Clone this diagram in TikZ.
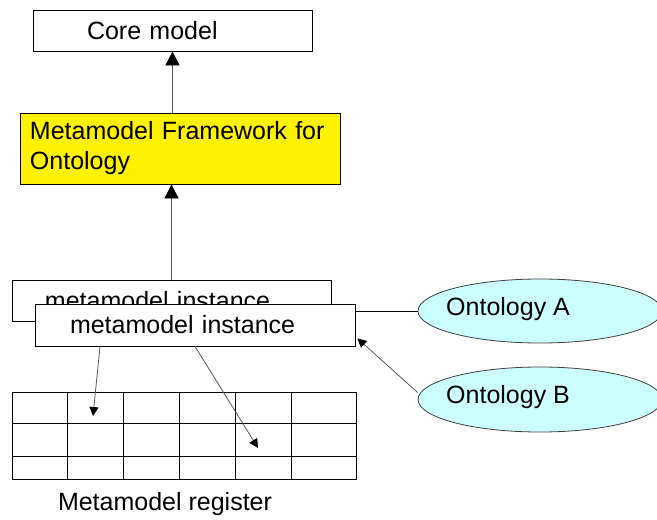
\documentclass[tikz,border=0pt]{standalone}
\usepackage{fontspec}
\setmainfont{Liberation Sans}
\usetikzlibrary{shapes.geometric, arrows.meta}
\definecolor{ontofill}{HTML}{CCFFFF}
\tikzstyle{box} = [
  rectangle,
  draw=black,
  fill=white,
  line width=0.8pt,
  align=left,
  inner ysep=0pt
]
\tikzstyle{onto} = [
  ellipse,
  draw=black!75,
  fill=ontofill,
  line width=0.8pt,
  inner sep=0pt
]
\tikzstyle{txt} = [inner sep=0pt]
\tikzstyle{grid} = [draw=black, line width=0.8pt]
\tikzstyle{link} = [draw=black, line width=0.8pt]
\tikzstyle{arrow} = [draw=black!65, line width=0.8pt, -{Triangle[length=14pt,width=14pt,color=black]}]
\tikzstyle{smallarrow} = [draw=black!65, line width=0.8pt, -{Triangle[length=9pt,width=9pt,color=black]}]

\begin{document}
\begin{tikzpicture}[x=1pt, y=-1pt, font=\fontsize{25}{30}\selectfont]
    \useasboundingbox (0,0) rectangle (657,520);
    \clip (0,0) rectangle (657,520);

    \node (core) [box, minimum height=41pt, text width=171pt, inner xsep=54pt] at (172.5,30.5) {Core model};
    \node (meta) [box, fill=yellow, minimum height=71pt, text width=300pt, inner xsep=10pt] at (180,148.5) {Metamodel Framework for\\Ontology};
    \node (back) [box, minimum height=41pt, text width=253pt, inner xsep=33pt] at (171.5,300.5) {metamodel instance};
    \node (front) [box, minimum height=42pt, text width=250pt, inner xsep=35pt] at (195,325) {metamodel instance};

    \node (ontA) [onto, minimum width=244pt, minimum height=64pt] at (540,311) {};
    \node (ontAtext) [txt, anchor=base west] at (446,315) {Ontology A};
    \node (ontB) [onto, minimum width=244pt, minimum height=65pt] at (540,399.5) {};
    \node (ontBtext) [txt, anchor=base west] at (446,403) {Ontology B};

    % register table
    \draw [grid] (12,392) rectangle (356,479);
    \foreach \x in {67,123,179,235,291}
        \draw [grid] (\x,392) -- (\x,479);
    \foreach \y in {423,456}
        \draw [grid] (12,\y) -- (356,\y);
    \coordinate (cellA) at (93,416);
    \coordinate (cellB) at (258,448);
    \node (register) [txt, anchor=base] at (165,510) {Metamodel register};

    \draw [arrow] (core.south |- meta.north) -- (core.south);
    \draw [arrow] (back.north) -- (back.north |- meta.south);
    \draw [link] (ontA.west) -- (ontA.west -| front.east);
    \draw [smallarrow] ([yshift=7pt]ontB.west) -- ([xshift=2pt,yshift=8pt]front.south east);
    \draw [smallarrow] ([xshift=-95pt]front.south) -- (cellA);
    \draw [smallarrow] (front.south) -- (cellB);
\end{tikzpicture}
\end{document}
